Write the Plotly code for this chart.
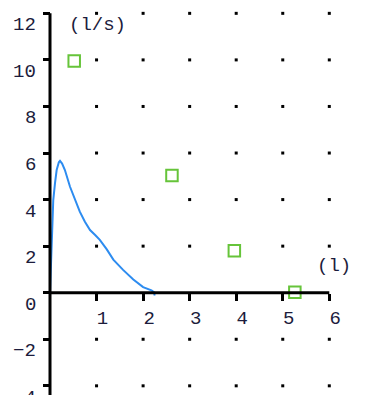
import plotly.graph_objects as go

# Flow-volume curve (volume in l, flow in l/s)
curve_vol = [0, 0.036, 0.07, 0.107, 0.143, 0.19, 0.215, 0.26, 0.32, 0.43, 0.54, 0.64,
             0.75, 0.86, 0.97, 1.07, 1.22, 1.36, 1.57, 1.79, 2.0, 2.18, 2.25, 2.24]
curve_flow = [0, 1.83, 3.98, 4.7, 5.27, 5.6, 5.66, 5.55, 5.27, 4.55, 3.98, 3.48,
              3.05, 2.69, 2.48, 2.27, 1.86, 1.42, 0.98, 0.57, 0.24, 0.1, 0.0, -0.12]

# Predicted points
pred_vol = [0.52, 2.62, 3.96, 5.26]
pred_flow = [9.95, 5.03, 1.8, 0.02]

x_ticks = [1, 2, 3, 4, 5, 6]
x_ticklabels = ["1", "2", "3", "4", "5", "6"]
y_ticks = [-4, -2, 0, 2, 4, 6, 8, 10, 12]
y_ticklabels = ["\u22124", "\u22122", "0", "2", "4", "6", "8", "10", "12"]

W, H = 379, 395
x0_px, x_scale = 50.0, 46.55
y0_px, y_scale = 292.7, 23.28
x_range = [-x0_px / x_scale, (W - x0_px) / x_scale]
y_range = [-(H - y0_px) / y_scale, y0_px / y_scale]

FONT = "Liberation Mono"
TXT = "#1c1c3c"

fig = go.Figure()

# dotted grid
gx, gy = [], []
for xv in x_ticks:
    for yv in y_ticks:
        if yv != 0:
            gx.append(xv)
            gy.append(yv)
fig.add_trace(go.Scatter(x=gx, y=gy, mode="markers",
                         marker=dict(symbol="square", size=3, color="black",
                                     line=dict(width=0)),
                         hoverinfo="skip", showlegend=False))

fig.add_trace(go.Scatter(x=curve_vol, y=curve_flow, mode="lines",
                         line=dict(color="#2d8cf0", width=2),
                         showlegend=False))

fig.add_trace(go.Scatter(x=pred_vol, y=pred_flow, mode="markers",
                         marker=dict(symbol="square", size=11.5, color="white",
                                     line=dict(width=2, color="#66c43a")),
                         showlegend=False))

# axis lines
fig.add_shape(type="line", x0=0, x1=0, y0=y_range[0] - 1, y1=max(y_ticks),
              line=dict(color="black", width=3), layer="above")
fig.add_shape(type="line", x0=0, x1=max(x_ticks), y0=0, y1=0,
              line=dict(color="black", width=3), layer="above")

# y tick labels (drawn slightly below their ticks, as in the original)
for yv, lab in zip(y_ticks, y_ticklabels):
    fig.add_annotation(x=0, y=yv, text=lab, showarrow=False,
                       xanchor="right", yanchor="middle", xshift=-12, yshift=-12,
                       font=dict(family=FONT, size=19, color=TXT))

fig.add_annotation(x=0.36, y=11.5, text="(l/s)", showarrow=False,
                   xanchor="left", yanchor="middle",
                   font=dict(family=FONT, size=19, color=TXT))
fig.add_annotation(x=5.69, y=1.15, text="(l)", showarrow=False,
                   xanchor="left", yanchor="middle",
                   font=dict(family=FONT, size=19, color=TXT))

fig.update_layout(
    width=W, height=H,
    margin=dict(l=0, r=0, t=0, b=0),
    plot_bgcolor="white", paper_bgcolor="white",
    xaxis=dict(range=x_range, showgrid=False, zeroline=False, showline=False,
               tickvals=x_ticks, ticktext=x_ticklabels,
               ticks="outside", ticklen=7, tickwidth=3, tickcolor="black",
               anchor="free", position=(H - y0_px) / H,
               ticklabelshift=6, ticklabelstandoff=0,
               tickfont=dict(family=FONT, size=19, color=TXT)),
    yaxis=dict(range=y_range, showgrid=False, zeroline=False, showline=False,
               tickvals=y_ticks, showticklabels=False,
               ticks="outside", ticklen=7, tickwidth=3, tickcolor="black",
               anchor="free", position=x0_px / W),
)

fig.write_html("out.html")
